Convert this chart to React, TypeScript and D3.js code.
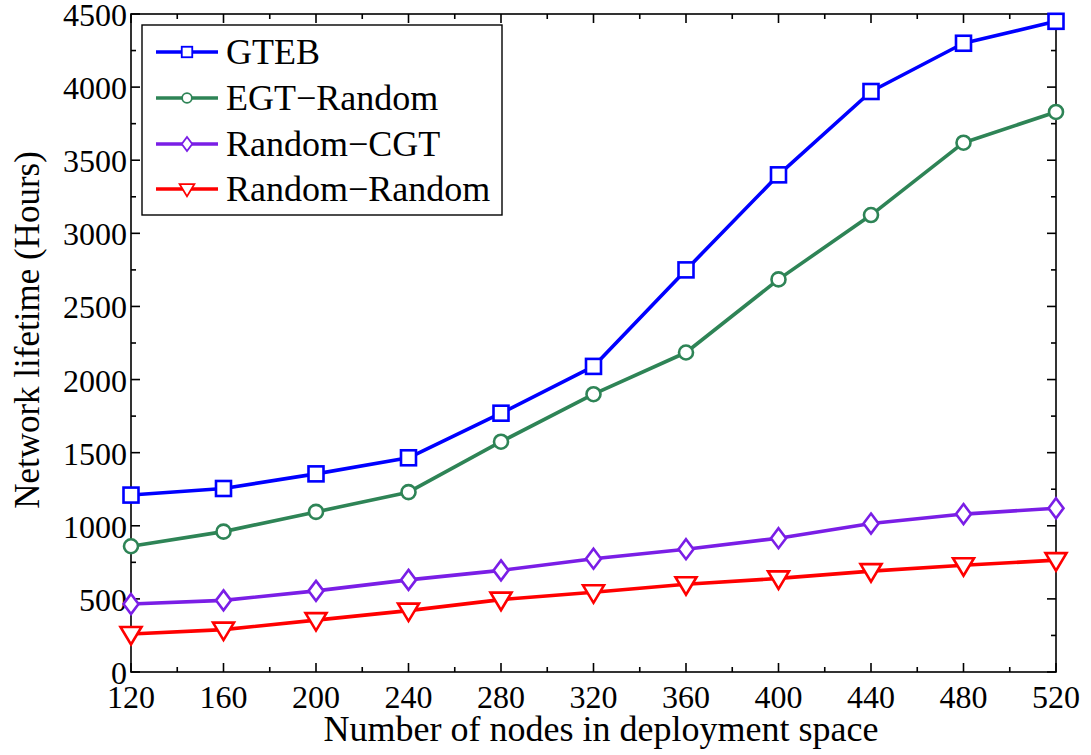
import React, { useEffect, useRef } from "react";
import * as d3 from "d3";

const nodes = [120, 160, 200, 240, 280, 320, 360, 400, 440, 480, 520];
const gteb = [1210, 1255, 1355, 1465, 1770, 2090, 2750, 3400, 3970, 4300, 4450];
const egtRandom = [860, 960, 1095, 1230, 1575, 1900, 2185, 2685, 3125, 3620, 3830];
const randomCgt = [465, 490, 555, 630, 695, 775, 840, 915, 1015, 1080, 1120];
const randomRandom = [260, 290, 355, 420, 495, 545, 600, 640, 690, 730, 765];

const seriesNames = ["GTEB", "EGT\u2212Random", "Random\u2212CGT", "Random\u2212Random"];
const seriesColors = ["#0000ff", "#2e8456", "#7a1ee6", "#ff0000"];
const seriesMarkers = ["square", "circle", "diamond", "triangleDown"];

const xTicks = d3.range(120, 521, 20);
const xLabels = d3.range(120, 521, 40);
const yTicks = d3.range(0, 4501, 250);
const yLabels = d3.range(0, 4501, 500);

const W = 1091;
const H = 755;
const M = { left: 131, top: 14, right: 1056, bottom: 672 };
const FONT = "'Liberation Serif', 'Times New Roman', serif";

function drawMarker(g: d3.Selection<SVGGElement, unknown, null, undefined>, kind: string, cx: number, cy: number, color: string) {
  const sw = 2.6;
  if (kind === "square") {
    g.append("rect").attr("x", cx - 7.5).attr("y", cy - 7.5).attr("width", 15).attr("height", 15)
      .attr("fill", "white").attr("stroke", color).attr("stroke-width", sw);
  } else if (kind === "circle") {
    g.append("circle").attr("cx", cx).attr("cy", cy).attr("r", 7)
      .attr("fill", "white").attr("stroke", color).attr("stroke-width", sw);
  } else if (kind === "diamond") {
    g.append("path").attr("d", `M${cx},${cy - 10}L${cx + 7.5},${cy}L${cx},${cy + 10}L${cx - 7.5},${cy}Z`)
      .attr("fill", "white").attr("stroke", color).attr("stroke-width", sw);
  } else {
    g.append("path").attr("d", `M${cx - 10.5},${cy - 7}L${cx + 10.5},${cy - 7}L${cx},${cy + 10.5}Z`)
      .attr("fill", "white").attr("stroke", color).attr("stroke-width", sw);
  }
}

export default function App() {
  const ref = useRef<SVGSVGElement>(null);

  useEffect(() => {
    const svg = d3.select(ref.current!);
    svg.selectAll("*").remove();

    const x = d3.scaleLinear().domain([120, 520]).range([M.left, M.right]);
    const y = d3.scaleLinear().domain([0, 4500]).range([M.bottom, M.top]);

    svg.append("rect").attr("width", W).attr("height", H).attr("fill", "white");

    // frame and ticks
    const axis = svg.append("g").attr("stroke", "#000").attr("stroke-width", 1.6);
    axis.append("rect").attr("x", M.left).attr("y", M.top)
      .attr("width", M.right - M.left).attr("height", M.bottom - M.top).attr("fill", "none");
    xTicks.forEach((t) => {
      const len = xLabels.includes(t) ? 9 : 5;
      axis.append("line").attr("x1", x(t)).attr("x2", x(t)).attr("y1", M.bottom).attr("y2", M.bottom - len);
      axis.append("line").attr("x1", x(t)).attr("x2", x(t)).attr("y1", M.top).attr("y2", M.top + len);
    });
    yTicks.forEach((t) => {
      const len = yLabels.includes(t) ? 9 : 5;
      axis.append("line").attr("y1", y(t)).attr("y2", y(t)).attr("x1", M.left).attr("x2", M.left + len);
      axis.append("line").attr("y1", y(t)).attr("y2", y(t)).attr("x1", M.right).attr("x2", M.right - len);
    });

    const txt = svg.append("g").attr("font-family", FONT).attr("fill", "#000");
    xLabels.forEach((t) => {
      txt.append("text").attr("x", x(t)).attr("y", M.bottom + 36).attr("font-size", 32)
        .attr("text-anchor", "middle").text(String(t));
    });
    yLabels.forEach((t) => {
      txt.append("text").attr("x", M.left - 4).attr("y", y(t) + 12).attr("font-size", 32)
        .attr("text-anchor", "end").text(String(t));
    });
    txt.append("text").attr("x", 601).attr("y", 741).attr("font-size", 36).attr("text-anchor", "middle")
      .text("Number of nodes in deployment space");
    txt.append("text").attr("transform", `translate(39,${330}) rotate(-90)`).attr("font-size", 35)
      .attr("text-anchor", "middle").text("Network lifetime (Hours)");

    const allSeries = [gteb, egtRandom, randomCgt, randomRandom];
    const line = d3.line<number>().x((_, i) => x(nodes[i])).y((d) => y(d));

    allSeries.forEach((vals, si) => {
      const g = svg.append("g");
      g.append("path").attr("d", line(vals)!).attr("fill", "none")
        .attr("stroke", seriesColors[si]).attr("stroke-width", 3.6).attr("stroke-linejoin", "round");
      vals.forEach((v, i) => drawMarker(g, seriesMarkers[si], x(nodes[i]), y(v), seriesColors[si]));
    });

    // legend
    const lg = svg.append("g");
    lg.append("rect").attr("x", 142).attr("y", 25).attr("width", 360).attr("height", 190)
      .attr("fill", "white").attr("stroke", "#000").attr("stroke-width", 1.4);
    const rowY = [52, 98, 144, 189];
    seriesNames.forEach((name, i) => {
      lg.append("line").attr("x1", 156).attr("x2", 218).attr("y1", rowY[i]).attr("y2", rowY[i])
        .attr("stroke", seriesColors[i]).attr("stroke-width", 3.6);
      const mg = lg.append("g").attr("transform", `translate(187,${rowY[i]}) scale(0.7) translate(-187,${-rowY[i]})`);
      drawMarker(mg, seriesMarkers[i], 187, rowY[i], seriesColors[i]);
      lg.append("text").attr("x", 226).attr("y", rowY[i] + 12).attr("font-family", FONT)
        .attr("font-size", 36).text(name);
    });
  }, []);

  return <svg ref={ref} width={W} height={H} style={{ display: "block", position: "absolute", left: 0, top: 0 }} />;
}
